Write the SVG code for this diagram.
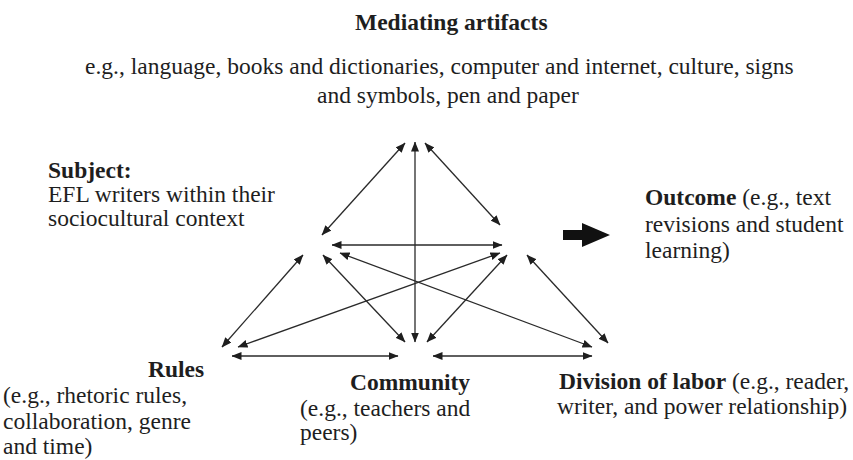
<svg xmlns="http://www.w3.org/2000/svg" width="853" height="460" viewBox="0 0 853 460">
  <style>
    text { font-family: "Liberation Serif", "Times New Roman", serif; font-size: 23.5px; fill: #1e1e1e; }
    .b { font-weight: bold; }
    .link { stroke: #2a2a2a; stroke-width: 1.3; fill: none; marker-start: url(#head); marker-end: url(#head); }
  </style>
  <defs>
    <marker id="head" viewBox="0 0 10 8" refX="9.5" refY="4" markerWidth="10" markerHeight="8" markerUnits="userSpaceOnUse" orient="auto-start-reverse">
      <path d="M0,0 L10,4 L0,8 z" fill="#1e1e1e"/>
    </marker>
  </defs>
  <rect width="853" height="460" fill="#ffffff"/>

  <g id="mediating-artifacts">
    <text class="b" x="355" y="30">Mediating artifacts</text>
    <text x="85" y="74">e.g., language, books and dictionaries, computer and internet, culture, signs</text>
    <text x="317" y="103">and symbols, pen and paper</text>
  </g>

  <g id="subject">
    <text class="b" x="48" y="178">Subject:</text>
    <text x="48" y="202">EFL writers within their</text>
    <text x="48" y="226">sociocultural context</text>
  </g>

  <g id="outcome">
    <text x="645" y="205"><tspan class="b">Outcome</tspan> (e.g., text</text>
    <text x="645" y="232">revisions and student</text>
    <text x="645" y="258">learning)</text>
  </g>

  <g id="rules">
    <text class="b" x="148" y="377">Rules</text>
    <text x="3" y="403">(e.g., rhetoric rules,</text>
    <text x="3" y="429">collaboration, genre</text>
    <text x="3" y="454">and time)</text>
  </g>

  <g id="community">
    <text class="b" x="350" y="390">Community</text>
    <text x="300" y="416">(e.g., teachers and</text>
    <text x="300" y="440">peers)</text>
  </g>

  <g id="division-of-labor">
    <text x="559" y="389"><tspan class="b">Division of labor</tspan> (e.g., reader,</text>
    <text x="557" y="414">writer, and power relationship)</text>
  </g>

  <g id="connectors">
    <line class="link" x1="415" y1="142" x2="415" y2="342"/>
    <line class="link" x1="405" y1="143" x2="322" y2="235"/>
    <line class="link" x1="425" y1="143" x2="500" y2="225"/>
    <line class="link" x1="332" y1="245" x2="502" y2="245"/>
    <line class="link" x1="303" y1="255" x2="222" y2="347"/>
    <line class="link" x1="323" y1="255" x2="405" y2="342"/>
    <line class="link" x1="340" y1="253" x2="592" y2="347"/>
    <line class="link" x1="238" y1="347" x2="500" y2="253"/>
    <line class="link" x1="427" y1="342" x2="507" y2="255"/>
    <line class="link" x1="527" y1="255" x2="608" y2="343"/>
    <line class="link" x1="232" y1="356" x2="398" y2="356"/>
    <line class="link" x1="433" y1="356" x2="592" y2="356"/>
    <!-- block arrow pointing toward the outcome -->
    <path d="M563,230 L582,230 L582,223 L610,235 L582,247 L582,240 L563,240 Z" fill="#111111"/>
  </g>
</svg>
